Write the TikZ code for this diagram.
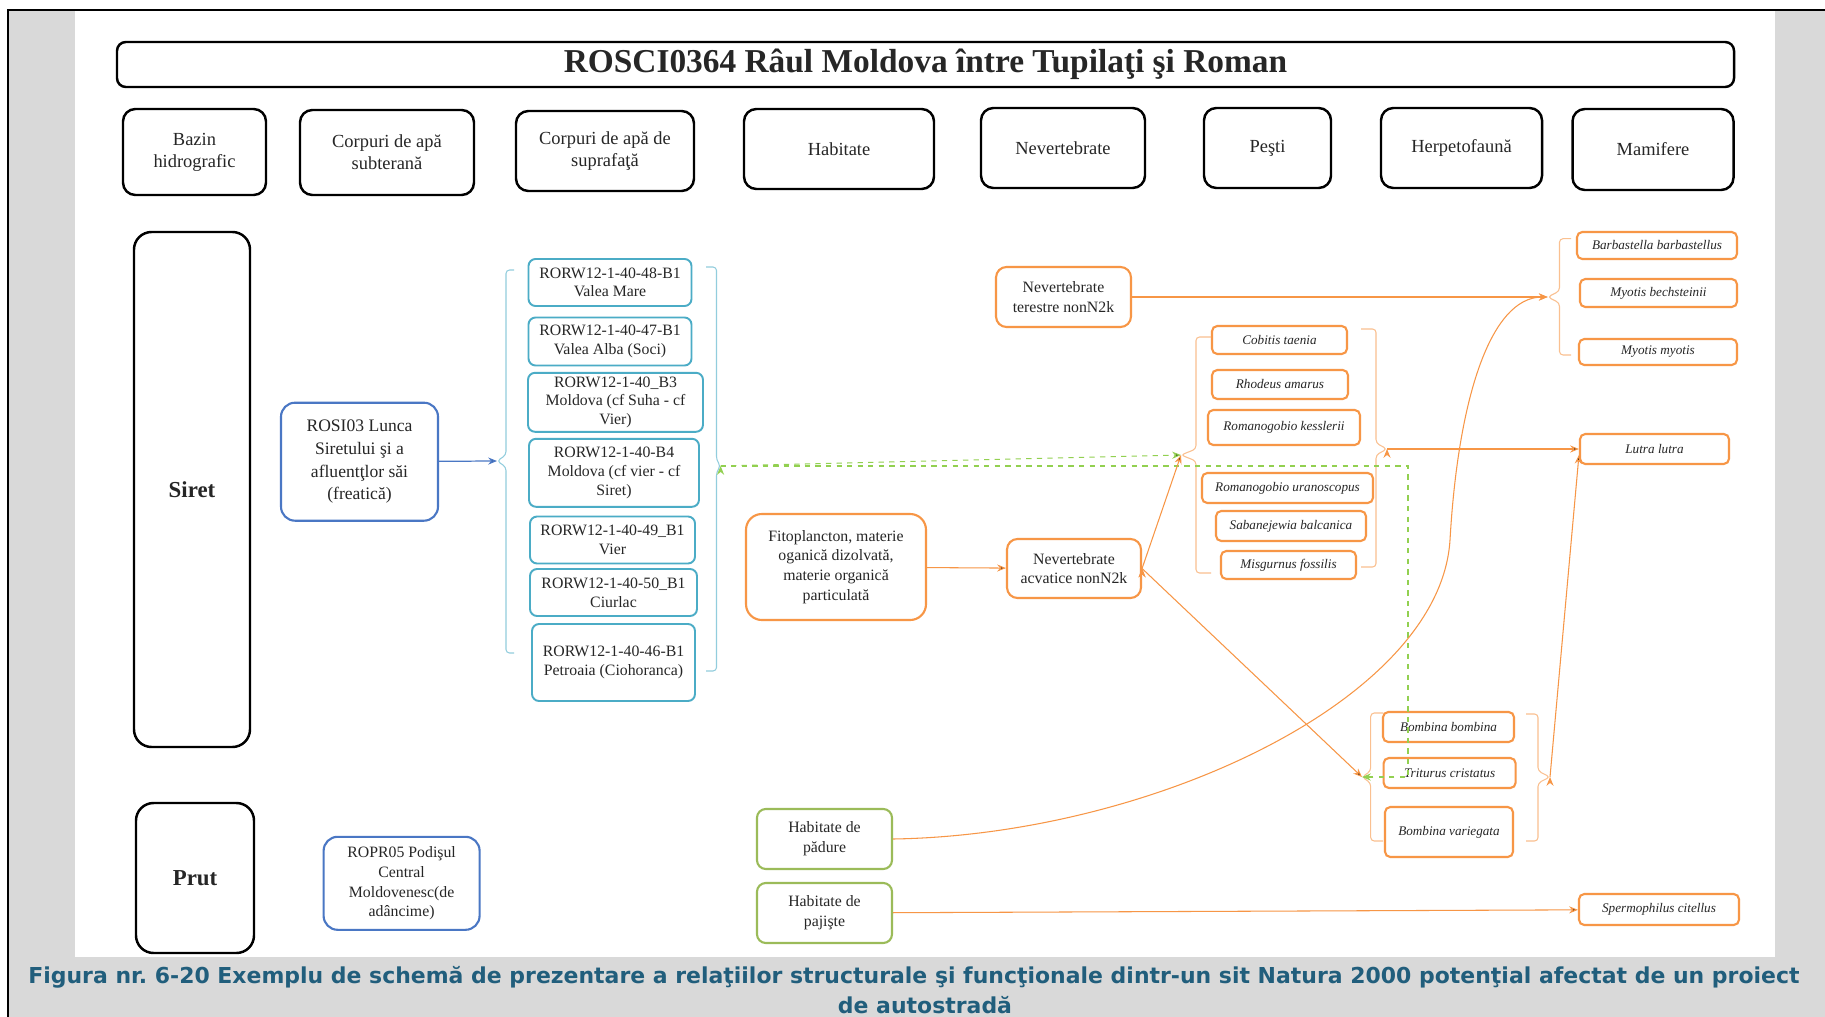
\documentclass[tikz,border=0pt]{standalone}
\usepackage{fontspec}
\setmainfont{Liberation Serif}
\newfontfamily\capfont{DejaVu Sans}
\usetikzlibrary{arrows.meta}
\definecolor{bgrey}{RGB}{217,217,217}
\definecolor{sblue}{RGB}{74,119,196}
\definecolor{steal}{RGB}{75,172,198}
\definecolor{lteal}{RGB}{146,205,221}
\definecolor{orng}{RGB}{247,150,70}
\definecolor{lorng}{RGB}{250,192,144}
\definecolor{hgreen}{RGB}{155,187,89}
\definecolor{dgreen}{RGB}{146,208,80}
\definecolor{capblue}{RGB}{33,94,124}

\begin{document}
\begin{tikzpicture}[x=0.02cm, y=-0.02cm, >={Stealth[length=5pt,width=4pt]},
  wh/.style 2 args={minimum width=#1*0.02cm, minimum height=#2*0.02cm},
  bx/.style={draw, align=center, inner sep=0pt, text=black!85},
  hdr/.style={bx, line width=1.4pt, rounded corners=7pt, font=\fontsize{10.5}{12.5}\selectfont},
  riv/.style={bx, line width=1.4pt, rounded corners=10pt, font=\bfseries\fontsize{13}{15}\selectfont},
  blu/.style={bx, draw=sblue, line width=1.2pt, rounded corners=8pt},
  tl/.style={bx, draw=steal, line width=1.1pt, rounded corners=4pt, font=\fontsize{9}{10.6}\selectfont},
  org/.style={bx, draw=orng, line width=1.2pt, rounded corners=6pt, font=\fontsize{9}{11.2}\selectfont},
  sp/.style={bx, draw=orng, line width=1.2pt, rounded corners=3pt, font=\itshape\fontsize{7.5}{9}\selectfont},
  grn/.style={bx, draw=hgreen, line width=1.2pt, rounded corners=5pt, font=\fontsize{9}{11.2}\selectfont},
  tbr/.style={draw=lteal, line width=0.6pt, rounded corners=2pt},
  obr/.style={draw=lorng, line width=0.6pt, rounded corners=2pt},
  oln/.style={draw=orng, line width=0.6pt},
  gdash/.style={draw=dgreen, line width=0.6pt, dashed},
  capt/.style={text=capblue, inner sep=0pt, font=\capfont\bfseries\fontsize{12.5}{15}\selectfont}]

\useasboundingbox (0,0) rectangle (1825,1017);
\fill[bgrey] (8,10) rectangle (1825,1017);
\fill[white] (75,10) rectangle (1775,957);
\draw[line width=1.4pt] (8,1017) -- (8,10) -- (1825,10);

\draw (925.5, 64.5) node [bx, line width=1.4pt, rounded corners=5pt, wh={1617}{45}, font=\bfseries\fontsize{19}{22}\selectfont] (title) {ROSCI0364 Râul Moldova între Tupilaţi şi Roman};

\draw (194.5, 152) node [hdr, wh={143}{86}] (bazin) {Bazin\\hidrografic};
\draw (387, 152.5) node [hdr, wh={174}{85}] (subt) {Corpuri de apă\\subterană};
\draw (605, 151) node [hdr, wh={178}{80}] (supr) {Corpuri de apă de\\suprafaţă};
\draw (839, 149) node [hdr, wh={190}{80}] (habt) {Habitate};
\draw (1063, 148) node [hdr, wh={164}{80}] (nevh) {Nevertebrate};
\draw (1267.5, 148) node [hdr, wh={127}{80}] (pesti) {Peşti};
\draw (1461.5, 148) node [hdr, wh={161}{80}] (herph) {Herpetofaună};
\draw (1653, 149.5) node [hdr, wh={161}{81}] (mamh) {Mamifere};

\draw (192, 489.5) node [riv, wh={116}{515}] (siret) {Siret};
\draw (195, 878) node [riv, wh={118}{150}] (prut) {Prut};

\draw (359.5, 461.7) node [blu, wh={157}{118}, font=\fontsize{10}{13}\selectfont] (rosi) {ROSI03 Lunca\\Siretului şi a\\afluentţlor săi\\(freatică)};
\draw (401.6, 883.3) node [blu, wh={156}{93}, font=\fontsize{9}{11.3}\selectfont] (ropr) {ROPR05 Podişul\\Central\\Moldovenesc(de\\adâncime)};

\draw (610, 282.5) node [tl, wh={163}{47}] (rw1) {RORW12-1-40-48-B1\\Valea Mare};
\draw (610, 341.5) node [tl, wh={163}{48}] (rw2) {RORW12-1-40-47-B1\\Valea Alba (Soci)};
\draw (615.5, 402.3) node [tl, wh={175}{59}] (rw3) {RORW12-1-40\_B3\\Moldova (cf Suha - cf\\Vier)};
\draw (614, 472.8) node [tl, wh={170}{68}] (rw4) {RORW12-1-40-B4\\Moldova (cf vier - cf\\Siret)};
\draw (612.5, 540) node [tl, wh={165}{47}] (rw5) {RORW12-1-40-49\_B1\\Vier};
\draw (613.5, 592.5) node [tl, wh={167}{47}] (rw6) {RORW12-1-40-50\_B1\\Ciurlac};
\draw (613.5, 662.5) node [tl, wh={163}{77}] (rw7) {RORW12-1-40-46-B1\\Petroaia (Ciohoranca)};

\draw (1063.5, 297) node [org, wh={135}{60}] (nevter) {Nevertebrate\\terestre nonN2k};
\draw (836, 567) node [org, rounded corners=9pt, wh={180}{106}] (fito) {Fitoplancton, materie\\oganică dizolvată,\\materie organică\\particulată};
\draw (1074, 568.5) node [org, wh={134}{59}] (nevacv) {Nevertebrate\\acvatice nonN2k};

\draw (1279.5, 340) node [sp, wh={135}{28}] (cobitis) {Cobitis taenia};
\draw (1280, 384.5) node [sp, wh={136}{29}] (rhodeus) {Rhodeus amarus};
\draw (1284, 427.5) node [sp, wh={152}{35}] (kessl) {Romanogobio kesslerii};
\draw (1287.5, 488) node [sp, wh={171}{30}] (urano) {Romanogobio uranoscopus};
\draw (1291, 526) node [sp, wh={150}{30}] (sabane) {Sabanejewia balcanica};
\draw (1288.5, 565) node [sp, wh={135}{28}] (misg) {Misgurnus fossilis};

\draw (1657, 245.5) node [sp, wh={160}{27}] (barba) {Barbastella barbastellus};
\draw (1658.5, 293) node [sp, wh={157}{28}] (bechs) {Myotis bechsteinii};
\draw (1658, 352) node [sp, wh={158}{26}] (myotis) {Myotis myotis};
\draw (1654.5, 449) node [sp, wh={149}{30}] (lutra) {Lutra lutra};
\draw (1659, 909.5) node [sp, wh={160}{31}] (sperm) {Spermophilus citellus};

\draw (1448.5, 727) node [sp, wh={131}{30}] (bombb) {Bombina bombina};
\draw (1449.6, 773) node [sp, wh={132}{30}] (trit) {Triturus cristatus};
\draw (1449, 832) node [sp, wh={128}{50}] (bombv) {Bombina variegata};

\draw (824.5, 839) node [grn, wh={135}{60}] (padure) {Habitate de\\pădure};
\draw (824.5, 913) node [grn, wh={135}{60}] (pajiste) {Habitate de\\pajişte};

\coordinate (tealL) at (497, 461);
\coordinate (tealR) at (720.6, 466);
\coordinate (fishL) at (1181, 455);
\coordinate (fishR) at (1387, 449);
\coordinate (mamL) at (1547.7, 297);
\coordinate (herpL) at (1362, 777);
\coordinate (herpR) at (1550, 777);

\draw [tbr] (514, 270) -- (506, 270) -- (506, 455) -- (tealL) -- (506, 467) -- (506, 653) -- (514, 653);
\draw [tbr] (706, 267) -- (716.5, 267) -- (716.5, 460) -- (tealR) -- (716.5, 472) -- (716.5, 671) -- (706, 671);
\draw [obr] (1211, 337) -- (1196, 337) -- (1196, 449) -- (fishL) -- (1196, 461) -- (1196, 573) -- (1211, 573);
\draw [obr] (1361, 329) -- (1376, 329) -- (1376, 443) -- (fishR) -- (1376, 455) -- (1376, 567) -- (1361, 567);
\draw [obr] (1571, 238.7) -- (1559.5, 238.7) -- (1559.5, 291) -- (mamL) -- (1559.5, 303) -- (1559.5, 355) -- (1571, 355);
\draw [obr] (1383, 713) -- (1370.7, 713) -- (1370.7, 771) -- (herpL) -- (1370.7, 783) -- (1370.7, 841) -- (1383, 841);
\draw [obr] (1526, 714) -- (1538, 714) -- (1538, 771) -- (herpR) -- (1538, 783) -- (1538, 841) -- (1526, 841);

\path [->, draw=sblue, line width=0.7pt] (rosi) edge (tealL);
\path [->, gdash] (tealR) edge (fishL);
\draw [->, gdash] (tealR) -- (1408, 466) -- (1408, 777) -- (herpL);
\path [->, oln] (fito) edge (nevacv);
\path [->, oln] (nevacv.east) edge (fishL);
\path [->, oln] (nevacv.east) edge (herpL);
\path [->, oln] (nevter) edge (mamL);
\draw [->, oln] (padure.east) .. controls (1150, 835) and (1440, 700) .. (1450, 540) .. controls (1458, 400) and (1490, 297) .. (mamL);
\path [->, oln] (fishR) edge (lutra);
\path [->, oln] (herpR) edge ([yshift=-0.12cm]lutra.west);
\path [->, oln] (pajiste) edge (sperm);

\node [capt, anchor=base west] (cap1) at (28, 983) {Figura nr.\ 6-20 Exemplu de schemă de prezentare a relaţiilor structurale şi funcţionale dintr-un sit Natura 2000 potenţial afectat de un proiect};
\node [capt, anchor=base] (cap2) at (925, 1013) {de autostradă};
\end{tikzpicture}
\end{document}
